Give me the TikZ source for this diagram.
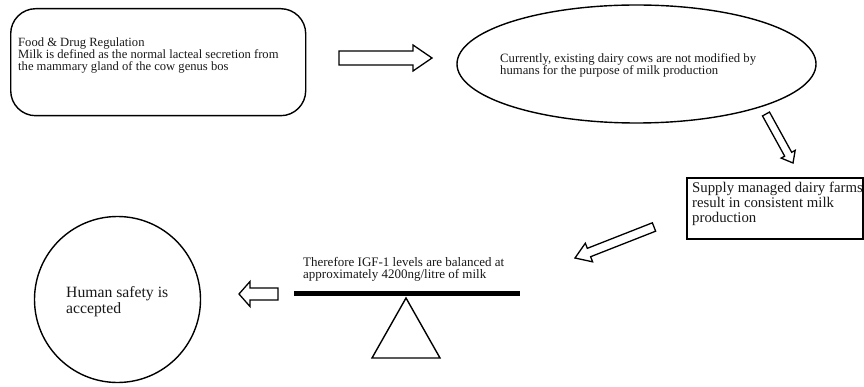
\documentclass[tikz,border=0pt]{standalone}
\usepackage{fontspec}
\setmainfont{Liberation Serif}
\usetikzlibrary{calc,shapes.geometric}

\tikzset{
  outline/.style={draw=black, line width=1.4pt, inner sep=0pt},
  fatarrow/.style={draw=black, line width=1.3pt, fill=white, line join=miter},
  % multi-line labels: the base anchor sits on the last line's baseline
  txt/.style={anchor=base west, inner sep=0pt, align=left, text=black!90},
}

% hollow block arrow: tail, tip, half body width, half head width, head length
\newcommand\blockarrow[5]{%
  \coordinate (#2-base) at ($(#2)!#5!(#1)$);
  \draw[fatarrow] ($(#1)!#3!90:(#2)$) -- ($(#2-base)!#3!90:(#2)$)
    -- ($(#2-base)!#4!90:(#2)$) -- (#2) -- ($(#2-base)!#4!-90:(#2)$)
    -- ($(#2-base)!#3!-90:(#2)$) -- ($(#1)!#3!-90:(#2)$) -- cycle;}

\begin{document}
\begin{tikzpicture}[x=1pt,y=-1pt]
\useasboundingbox[fill=white] (0,0) rectangle (864,387);

% regulation box
\node[outline, rounded corners=25pt, minimum width=295pt, minimum height=107pt,
      anchor=north west] (fdr) at (10,8) {};
\node[txt, font=\fontsize{12.6}{11.7}\selectfont] (fdrtext) at (18,70.4)
  {Food \& Drug Regulation\\Milk is defined as the normal lacteal secretion from\\the mammary gland of the cow genus bos};

% current cows
\node[outline, ellipse, minimum width=359pt, minimum height=118pt] (cur) at (636.5,64) {};
\node[txt, font=\fontsize{12.7}{12}\selectfont] (curtext) at (500,75)
  {Currently, existing dairy cows are not modified by\\humans for the purpose of milk production};

% supply management
\node[draw=black, line width=2pt, minimum width=176pt, minimum height=61pt,
      anchor=north west, inner sep=0pt] (supply) at (686,177) {};
\node[txt, font=\fontsize{14.8}{15}\selectfont] (supplytext) at (692,223)
  {Supply managed dairy farms\\result in consistent milk\\production};

% balance
\node[fill=black, minimum width=226pt, minimum height=5pt, inner sep=0pt,
      anchor=north west] (beam) at (294,291) {};
\coordinate (apex) at (406,298);
\coordinate (footl) at (372,358);
\coordinate (footr) at (440,358);
\draw[line width=1.4pt, line join=miter] (apex) -- (footl) -- (footr) -- cycle;
\node[txt, font=\fontsize{13}{12}\selectfont] (igftext) at (303,278)
  {Therefore IGF-1 levels are balanced at\\approximately 4200ng/litre of milk};

% safety
\node[outline, circle, minimum size=166pt] (safe) at (117.5,299.5) {};
\node[txt, font=\fontsize{15.7}{16.5}\selectfont] (safetext) at (66,313.5)
  {Human safety is\\accepted};

% block arrows
\coordinate (a1t) at (339,58);   \coordinate (a1h) at (432,58);
\coordinate (a2t) at (766,114);  \coordinate (a2h) at (793,163);
\coordinate (a3t) at (654,227);  \coordinate (a3h) at (575,258);
\coordinate (a4t) at (278,294);  \coordinate (a4h) at (239,294);
\blockarrow{a1t}{a1h}{7pt}{13pt}{19pt}
\blockarrow{a2t}{a2h}{4pt}{8pt}{10pt}
\blockarrow{a3t}{a3h}{4.5pt}{10pt}{15pt}
\blockarrow{a4t}{a4h}{6pt}{12.5pt}{11pt}
\end{tikzpicture}
\end{document}
